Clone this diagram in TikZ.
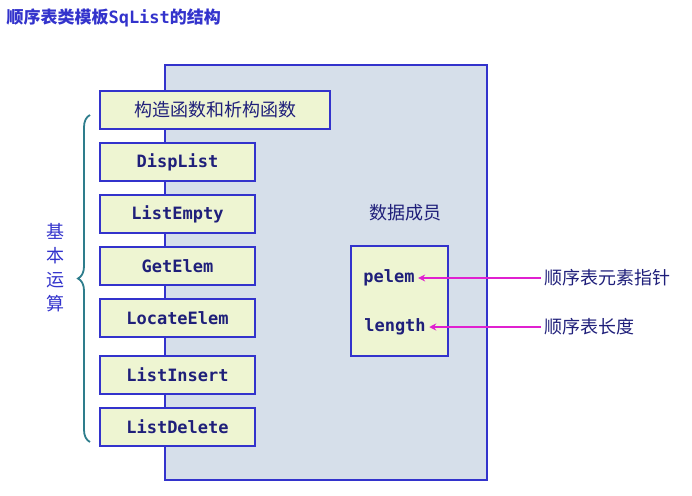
\documentclass[tikz,border=0pt]{standalone}
\usepackage{fontspec}
\setmainfont{DejaVu Sans Mono}
\newfontfamily\cjk{Noto Sans CJK SC}
\usetikzlibrary{decorations.pathreplacing,arrows.meta}
\definecolor{navy}{HTML}{3333CC}
\definecolor{panel}{HTML}{D6DFEA}
\definecolor{opfill}{HTML}{EEF5D2}
\definecolor{bracec}{HTML}{2E7D8C}
\definecolor{ptrc}{HTML}{E020D0}
\tikzset{
  opbox/.style={draw=navy, line width=1.5pt, fill=opfill, minimum height=38pt, font=\bfseries\fontsize{17}{19}\selectfont, text=navy!60!black},
  cjktext/.style={font=\cjk\fontsize{18}{24}\selectfont, text=navy!60!black},
  ptr/.style={ptrc, line width=1.5pt, -{Stealth[length=7pt,width=7pt]}},
}
\begin{document}
\begin{tikzpicture}[x=1pt,y=-1pt]
 \useasboundingbox (0,0) rectangle (692,495);
 \node[anchor=west, text=navy, font=\bfseries\fontsize{17}{19}\selectfont] (title) at (3,18) {{\cjk\bfseries 顺序表类模板}SqList{\cjk\bfseries 的结构}};
 \node[draw=navy, line width=1.5pt, fill=panel, minimum width=322pt, minimum height=415pt] (panel) at (326,272.5) {};
 \node[opbox, minimum width=230pt, cjktext] (ctor) at (215,110) {构造函数和析构函数};
 \node[opbox, minimum width=155pt] (disp) at (177.5,162) {DispList};
 \node[opbox, minimum width=155pt] (empty) at (177.5,214) {ListEmpty};
 \node[opbox, minimum width=155pt] (get) at (177.5,266) {GetElem};
 \node[opbox, minimum width=155pt] (locate) at (177.5,318) {LocateElem};
 \node[opbox, minimum width=155pt] (insert) at (177.5,375) {ListInsert};
 \node[opbox, minimum width=155pt] (delete) at (177.5,427) {ListDelete};
 \coordinate (btop) at (90,115);
 \coordinate (bbot) at (90,442);
 \draw[bracec, line width=1.8pt, decorate, decoration={brace, amplitude=12pt}] (bbot) -- (btop);
 \node[cjktext, text=navy, align=center, inner sep=0pt] (ops) at (55,268) {基\\本\\运\\算};
 \node[cjktext] (member) at (405,213) {数据成员};
 \node[draw=navy, line width=1.5pt, fill=opfill, minimum width=97pt, minimum height=110pt] (data) at (399.5,301) {};
 \node[font=\bfseries\fontsize{17}{19}\selectfont, text=navy!60!black] (pelem) at (389,278) {pelem};
 \node[font=\bfseries\fontsize{17}{19}\selectfont, text=navy!60!black] (length) at (395,327) {length};
 \node[anchor=west, cjktext] (pnote) at (541,278) {顺序表元素指针};
 \node[anchor=west, cjktext] (lnote) at (541,327) {顺序表长度};
 \draw[ptr] (pnote.west) -- (pelem.east |- pnote.west);
 \draw[ptr] (lnote.west) -- (length.east |- lnote.west);
\end{tikzpicture}
\end{document}
